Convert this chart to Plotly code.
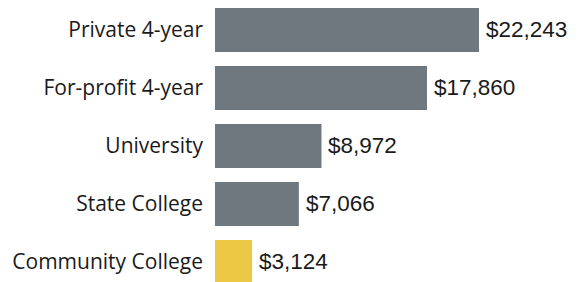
import plotly.graph_objects as go

categories = ["Private 4-year", "For-profit 4-year", "University", "State College", "Community College"]
values = [22243, 17860, 8972, 7066, 3124]
value_labels = ["$22,243", "$17,860", "$8,972", "$7,066", "$3,124"]
bar_colors = ["#6f787e", "#6f787e", "#6f787e", "#6f787e", "#ebc944"]

fig = go.Figure(go.Bar(
    x=values, y=categories, orientation="h",
    marker=dict(color=bar_colors, line=dict(width=0)),
    width=0.76,
    hoverinfo="skip",
))

for v, c, t in zip(values, categories, value_labels):
    fig.add_annotation(x=v, y=c, text=t, showarrow=False, xanchor="left", xshift=5,
                       font=dict(family="Liberation Sans, Arial, sans-serif", size=22.5, color="#1a1a1a"))

fig.update_layout(
    width=571, height=274,
    margin=dict(l=207, r=0, t=0, b=0),
    paper_bgcolor="white", plot_bgcolor="white",
    showlegend=False,
    xaxis=dict(range=[0, 22243 * 364 / 264], visible=False, fixedrange=True),
    yaxis=dict(type="category", categoryorder="array", categoryarray=categories,
               range=[4.345, -0.379], showgrid=False, zeroline=False, showline=False,
               ticks="", ticklabelstandoff=11,
               tickfont=dict(family="Open Sans, sans-serif", size=21, color="#1a1a1a")),
)

fig.write_html("out.html")
